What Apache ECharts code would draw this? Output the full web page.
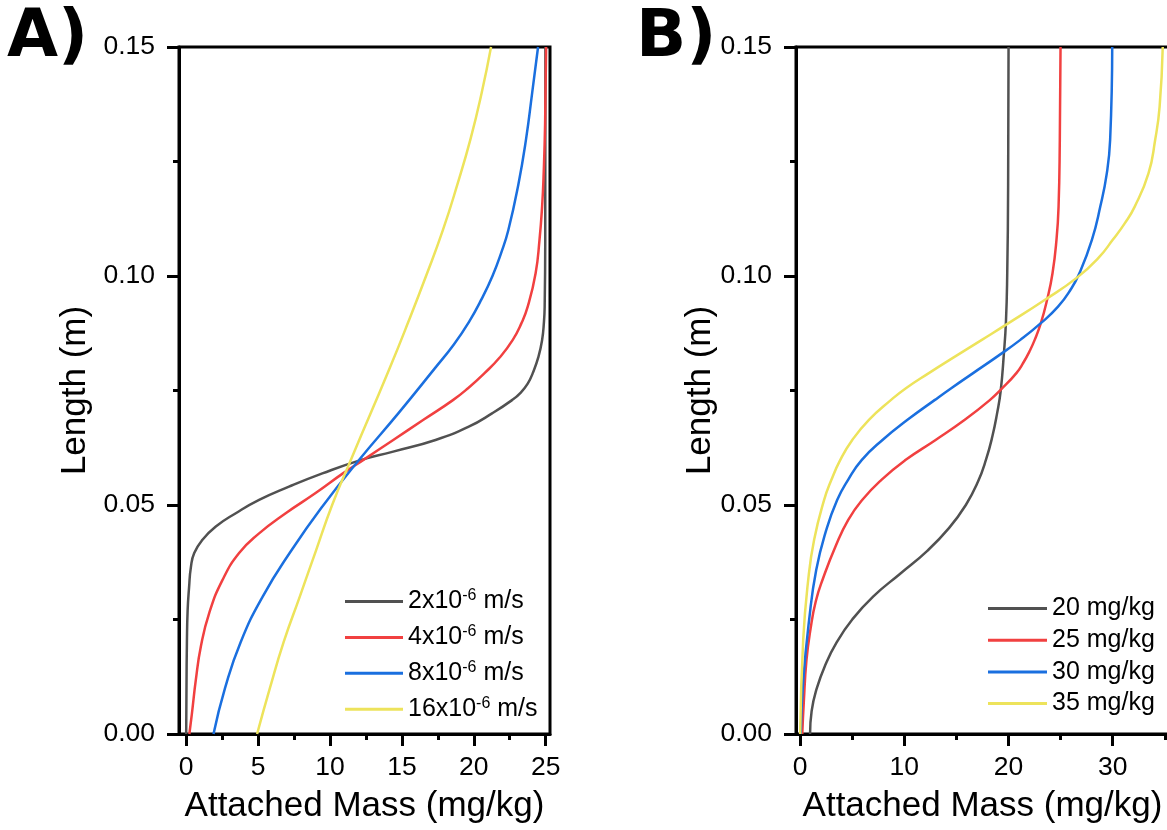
<!DOCTYPE html>
<html>
<head>
<meta charset="utf-8">
<script src="https://cdn.jsdelivr.net/npm/echarts@6/dist/echarts.min.js"></script>
<style>
  html, body { margin: 0; padding: 0; background: #fff; }
  #chart { width: 1167px; height: 830px; }
</style>
</head>
<body>
<div id="chart"></div>
<script>
// ---- Panel A: attached mass profiles for different filtration velocities ----
// points are [attached mass (mg/kg), length (m)]
const velocityNames = ['2x10-6 m/s', '4x10-6 m/s', '8x10-6 m/s', '16x10-6 m/s'];
const velocityCoef = ['2', '4', '8', '16'];

const massV2 = [[0.0,0],[0.02,0.01],[0.05,0.02],[0.1,0.027],[0.2,0.032],[0.33,0.0365],[0.56,0.0395],[1.13,0.0424],
  [2.06,0.0453],[3.45,0.0482],[5.07,0.0511],[7.15,0.054],[9.47,0.0569],[12.13,0.0598],[14.33,0.0616],
  [17.34,0.0642],[19.65,0.0671],[21.27,0.07],[22.66,0.0729],[23.25,0.0745],[23.75,0.0765],[24.1,0.0788],
  [24.5,0.0824],[24.75,0.086],[24.88,0.09],[24.93,0.0933],[24.97,0.1079],[24.98,0.15]];
const massV4 = [[0.22,0],[0.4,0.0045],[0.67,0.0118],[1.02,0.0191],[1.6,0.0264],[2.52,0.0336],[3.68,0.0395],
  [5.07,0.0438],[6.92,0.0482],[9.0,0.0526],[10.9,0.0569],[12.3,0.0598],[14.4,0.0642],[16.5,0.0686],
  [18.55,0.0729],[19.6,0.0755],[20.75,0.0788],[21.8,0.0822],[22.7,0.086],[23.3,0.0896],[23.75,0.0933],
  [24.3,0.1006],[24.57,0.1079],[24.75,0.1151],[24.86,0.1224],[24.96,0.1333],[25.03,0.15]];
const massV8 = [[1.9,0],[2.7,0.01],[3.78,0.02],[5.32,0.03],[7.3,0.04],[9.55,0.05],[12.06,0.06],[14.75,0.07],
  [17.33,0.08],[18.6,0.085],[19.67,0.09],[20.55,0.095],[21.3,0.1],[21.9,0.105],[22.4,0.11],[23.1,0.12],
  [23.64,0.13],[24.06,0.14],[24.47,0.15]];
const massV16 = [[4.93,0],[5.82,0.01],[6.77,0.02],[7.9,0.03],[9.02,0.04],[10.15,0.05],[11.47,0.06],[12.82,0.07],
  [14.17,0.08],[15.45,0.09],[16.68,0.1],[17.85,0.11],[18.86,0.12],[19.78,0.13],[20.55,0.14],[21.2,0.15]];

// ---- Panel B: attached mass profiles for different influent concentrations ----
const concNames = ['20 mg/kg', '25 mg/kg', '30 mg/kg', '35 mg/kg'];

const massC20 = [[0.95,0],[1.1,0.005],[1.6,0.01],[2.4,0.015],[3.5,0.02],[5.0,0.025],[7.0,0.03],[9.6,0.035],
  [12.2,0.04],[14.3,0.045],[15.9,0.05],[17.05,0.055],[17.85,0.06],[18.45,0.065],[18.9,0.07],[19.25,0.075],
  [19.55,0.083],[19.75,0.09],[19.87,0.1],[19.96,0.12],[20.0,0.15]];
const massC25 = [[0.2,0],[0.35,0.007],[0.6,0.016],[1.0,0.023],[1.5,0.029],[2.2,0.034],[3.4,0.041],[4.6,0.0467],
  [5.95,0.0511],[7.8,0.0555],[10.1,0.0598],[13.0,0.0642],[15.8,0.0686],[18.2,0.0729],[19.4,0.0755],
  [20.75,0.0788],[21.4,0.081],[22.0,0.0835],[22.5,0.086],[23.1,0.0897],[23.7,0.0948],[24.22,0.1006],
  [24.6,0.1079],[24.8,0.1151],[24.92,0.1297],[24.99,0.15]];
const massC30 = [[0.05,0],[0.3,0.0118],[0.86,0.0249],[1.54,0.0358],[2.5,0.0445],[3.55,0.0511],[4.6,0.0555],
  [5.9,0.0598],[7.9,0.0642],[10.3,0.0686],[12.9,0.0729],[14.5,0.0755],[16.6,0.0788],[18.9,0.0824],
  [21.1,0.086],[23.1,0.0897],[24.75,0.0933],[25.95,0.097],[26.8,0.1006],[28.0,0.1079],[28.8,0.1151],
  [29.43,0.1224],[29.75,0.1297],[29.95,0.15]];
const massC35 = [[0.0,0],[0.29,0.0205],[0.77,0.0336],[1.34,0.0424],[2.3,0.0511],[3.0,0.0555],[3.84,0.0598],
  [5.0,0.0642],[6.6,0.0686],[8.7,0.0729],[10.15,0.0755],[12.35,0.0788],[14.85,0.0824],[17.4,0.086],
  [20.0,0.0897],[23.5,0.0948],[26.6,0.0997],[28.65,0.104],[30.0,0.1079],[31.15,0.1115],[32.1,0.1151],
  [33.43,0.1224],[34.07,0.1297],[34.5,0.137],[34.8,0.15]];

// ---- axis ticks ----
const xTicksA = [0, 5, 10, 15, 20, 25];
const xMinorA = [2.5, 7.5, 12.5, 17.5, 22.5];
const xTicksB = [0, 10, 20, 30];
const xMinorB = [5, 15, 25, 35];
const yTickLabels = ['0.00', '0.05', '0.10', '0.15'];

const lineColors = ['#515151', '#F14040', '#1A6FDF', '#EDE35B'];
const FONT = '"Liberation Sans", Arial, sans-serif';

const chart = echarts.init(document.getElementById('chart'), null, { renderer: 'canvas' });

function mainX(gridIndex, min, max, ticks, labelText) {
  return {
    type: 'value', gridIndex, min, max, position: 'bottom', name: labelText,
    nameLocation: 'middle', nameGap: 55, nameMoveOverlap: false,
    nameTextStyle: { fontFamily: FONT, fontSize: 35, color: '#000' },
    axisLine: { show: true, onZero: false, lineStyle: { color: '#000', width: 3 } },
    axisTick: { show: true, inside: false, length: 12, customValues: ticks, lineStyle: { color: '#000', width: 3 } },
    axisLabel: { show: true, customValues: ticks, margin: 20, fontFamily: FONT, fontSize: 26.5, color: '#000' },
    splitLine: { show: false }
  };
}
// second x axis on the same grid, only used to draw the minor ticks
function minorX(gridIndex, min, max, ticks) {
  return {
    type: 'value', gridIndex, min, max, position: 'bottom',
    axisLine: { show: false, onZero: false },
    axisTick: { show: true, inside: false, length: 6, customValues: ticks, lineStyle: { color: '#000', width: 3 } },
    axisLabel: { show: false },
    splitLine: { show: false }
  };
}
function lengthY(gridIndex, gap) {
  return {
    type: 'value', gridIndex, min: 0, max: 0.15, interval: 0.05, position: 'left',
    name: 'Length (m)', nameLocation: 'middle', nameGap: gap, nameMoveOverlap: false,
    nameTextStyle: { fontFamily: FONT, fontSize: 35, color: '#000' },
    axisLine: { show: true, onZero: false, lineStyle: { color: '#000', width: 3 } },
    axisTick: { show: true, inside: false, length: 12, lineStyle: { color: '#000', width: 3 } },
    minorTick: { show: true, splitNumber: 2, length: 6, lineStyle: { color: '#000', width: 3 } },
    axisLabel: {
      margin: 24, fontFamily: FONT, fontSize: 26.5, color: '#000',
      formatter: (v) => yTickLabels[Math.round(v / 0.05)]
    },
    splitLine: { show: false }, minorSplitLine: { show: false }
  };
}
function curve(name, data, color, xi, yi) {
  return {
    type: 'line', name, data, xAxisIndex: xi, yAxisIndex: yi,
    symbol: 'none', showSymbol: false, smooth: 0.5,
    lineStyle: { color, width: 2.5 }, itemStyle: { color },
    z: 3, animation: false
  };
}

const LEGEND_SIZE = 25;
const richLegend = {
  n: { fontFamily: FONT, fontSize: LEGEND_SIZE, color: '#000', lineHeight: 27 },
  sup: { fontFamily: FONT, fontSize: 16, color: '#000', lineHeight: 16, verticalAlign: 'top' }
};
const legendBase = {
  orient: 'vertical', padding: 0, icon: 'rect', itemHeight: 3,
  textStyle: { fontFamily: FONT, fontSize: LEGEND_SIZE, color: '#000', rich: richLegend }
};

const option = {
  backgroundColor: '#fff',
  animation: false,
  title: [
    { text: 'A)', left: 7, top: 6, padding: 0,
      textStyle: { fontFamily: '"DejaVu Sans", sans-serif', fontWeight: 'bold', fontSize: 66, color: '#000' } },
    { text: 'B)', left: 636, top: 6, padding: 0,
      textStyle: { fontFamily: '"DejaVu Sans", sans-serif', fontWeight: 'bold', fontSize: 66, color: '#000' } }
  ],
  grid: [
    { left: 179, top: 47, width: 371, height: 687, show: true, borderColor: '#000', borderWidth: 3,
      outerBoundsMode: 'none', containLabel: false },
    { left: 796, top: 47, width: 373, height: 687, show: true, borderColor: '#000', borderWidth: 3,
      outerBoundsMode: 'none', containLabel: false }
  ],
  xAxis: [
    mainX(0, -0.5, 25.3, xTicksA, 'Attached Mass (mg/kg)'),
    minorX(0, -0.5, 25.3, xMinorA),
    mainX(1, -0.4, 35.4, xTicksB, 'Attached Mass (mg/kg)'),
    minorX(1, -0.4, 35.4, xMinorB)
  ],
  yAxis: [lengthY(0, 86), lengthY(1, 78)],
  legend: [
    Object.assign({}, legendBase, {
      data: velocityNames, left: 345, top: 588, itemWidth: 58, itemGap: 9.9,
      formatter: (name) => '{n|' + velocityCoef[velocityNames.indexOf(name)] + 'x10}{sup|-6}{n| m/s}'
    }),
    Object.assign({}, legendBase, {
      data: concNames, left: 988, top: 596, itemWidth: 59, itemGap: 6.7,
      formatter: (name) => '{n|' + name + '}'
    })
  ],
  series: [
    curve(velocityNames[0], massV2, lineColors[0], 0, 0),
    curve(velocityNames[1], massV4, lineColors[1], 0, 0),
    curve(velocityNames[2], massV8, lineColors[2], 0, 0),
    curve(velocityNames[3], massV16, lineColors[3], 0, 0),
    curve(concNames[0], massC20, lineColors[0], 2, 1),
    curve(concNames[1], massC25, lineColors[1], 2, 1),
    curve(concNames[2], massC30, lineColors[2], 2, 1),
    curve(concNames[3], massC35, lineColors[3], 2, 1)
  ]
};
chart.setOption(option);
</script>
</body>
</html>
